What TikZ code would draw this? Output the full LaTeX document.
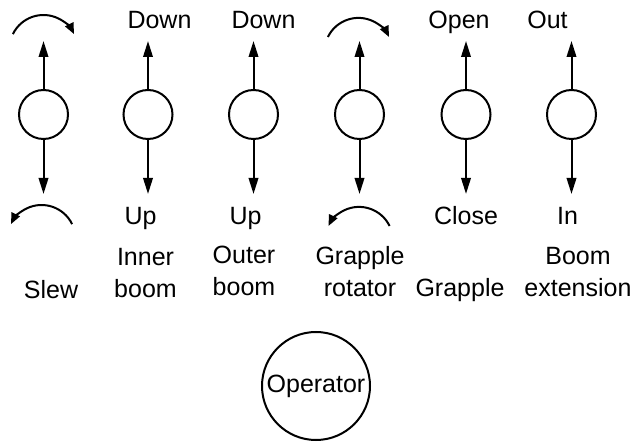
\documentclass[tikz,border=0pt]{standalone}
\usepackage{fontspec}
\setmainfont{Liberation Sans}
\usepackage{tikz}
\usetikzlibrary{positioning,arrows.meta}
\tikzset{%
	joint/.style    = {draw, circle, minimum size = 49pt, inner sep = 0pt},
	operator/.style = {draw, circle, minimum size = 108pt, inner sep = 0pt},
	turn/.style     = {->, >={Triangle[length=11pt,width=9pt]}}
}

\begin{document}
\begin{tikzpicture}[line width=2pt, x=1pt, y=1pt,
          >={Triangle[length=16pt,width=9.5pt]},
          font=\fontsize{25}{32}\selectfont]
          \def\cy{332.5};
          \def\rad{34};
        \useasboundingbox (0,0) rectangle (632,447);
        \draw
            node at (43.5,\cy)[joint, name=slew]{}
            node at (148,\cy)[joint, name=inner]{}
            node at (253.5,\cy)[joint, name=outer]{}
            node at (359.5,\cy)[joint, name=rot]{}
            node at (466,\cy)[joint, name=grap]{}
            node at (571.5,\cy)[joint, name=ext]{}
            node at (316,61)[operator, name=op]{Operator};

            \foreach \j in {slew,inner,outer,rot,grap,ext}{
              \coordinate [above=48pt of \j.north] (\j_up);
              \coordinate [below=54pt of \j.south] (\j_dn);
              \draw[->](\j) -- (\j_up);
              \draw[->](\j) -- (\j_dn);
            }

            % turning arrows
            \coordinate (slew_cw) at (12.9,412.9);
            \coordinate (slew_ccw) at (72.1,222.9);
            \coordinate (rot_cw) at (327.9,410);
            \coordinate (rot_ccw) at (389.6,221);
            \draw[turn](slew_cw) arc[start angle=154, end angle=26, radius=\rad];
            \draw[turn](slew_ccw) arc[start angle=26, end angle=154, radius=\rad];
            \draw[turn](rot_cw) arc[start angle=154, end angle=26, radius=\rad];
            \draw[turn](rot_ccw) arc[start angle=26, end angle=154, radius=\rad];

            \node [anchor=base] (inner_d) at (159.5,418) {Down};
            \node [anchor=base] (outer_d) at (263.5,418) {Down};
            \node [anchor=base] (grap_o) at (459,418) {Open};
            \node [anchor=base] (ext_o) at (547.5,418) {Out};

            \node [anchor=base] (inner_u) at (140.5,222) {Up};
            \node [anchor=base] (outer_u) at (245.5,222) {Up};
            \node [anchor=base] (grap_c) at (466,222) {Close};
            \node [anchor=base] (ext_i) at (567.5,222) {In};

            \node [anchor=base] (slew_l) at (51,148) {Slew};
            \node [anchor=base, align=center] (inner_l) at (145.5,149) {Inner\\boom};
            \node [anchor=base, align=center] (outer_l) at (244,151) {Outer\\boom};
            \node [anchor=base, align=center] (rot_l) at (360,150) {Grapple\\rotator};
            \node [anchor=base] (grap_l) at (460,150) {Grapple};
            \node [anchor=base, align=center] (ext_l) at (578,150) {Boom\\extension};
    \end{tikzpicture}
\end{document}
